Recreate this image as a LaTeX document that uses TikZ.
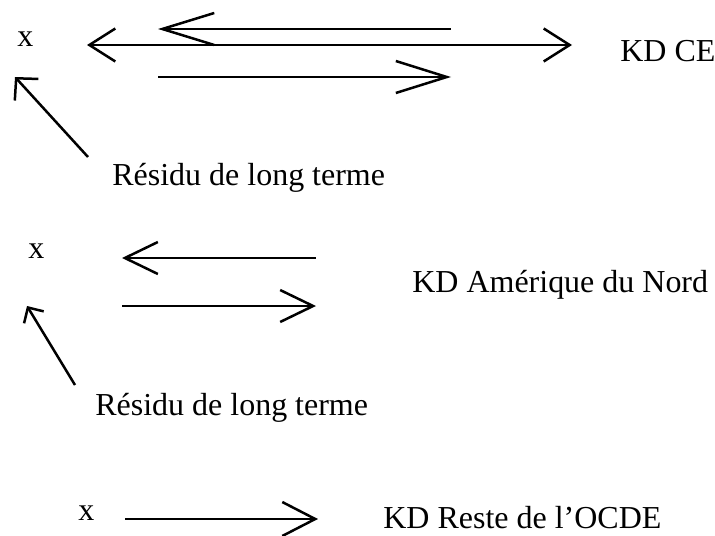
\documentclass[tikz,border=0pt]{standalone}
\usepackage{fontspec}
\setmainfont{Liberation Serif}
\usetikzlibrary{arrows.meta}
\begin{document}
\begin{tikzpicture}[
    flow/.style={line width=0.05cm},
    lbl/.style={inner sep=0pt, anchor=base west}]
                \useasboundingbox (0,0) rectangle (14.300000,10.700000);
                {\fontsize{18.2}{22}\selectfont

                % Marking point x (CE)
                \node [lbl] (xce) at (0.340000,9.760000) {x};%
                \node [lbl] (kdce) at (12.400000,9.460000) {KD CE};%
                \node [lbl] (rce) at (2.240000,7.000000) {Résidu de long terme};%

                % Drawing line x <-> KD CE
                \coordinate (ceL) at (1.740000,9.800000);
                \coordinate (ceR) at (11.440000,9.800000);
                \draw [flow, {Straight Barb[length=0.52cm,width=0.66cm]}-{Straight Barb[length=0.52cm,width=0.66cm]}] (ceL) -- (ceR);%

                % Drawing line back, upper
                \coordinate (ceuL) at (3.160000,10.120000);
                \coordinate (ceuR) at (9.020000,10.120000);
                \draw [flow, {Straight Barb[length=1.04cm,width=0.64cm]}-] (ceuL) -- (ceuR);%

                % Drawing line forth, lower
                \coordinate (celL) at (3.160000,9.160000);
                \coordinate (celR) at (9.020000,9.160000);
                \draw [flow, -{Straight Barb[length=1.02cm,width=0.64cm]}] (celL) -- (celR);%

                % Drawing residual CE
                \coordinate (rceA) at (1.760000,7.560000);
                \coordinate (rceB) at (0.300000,9.160000);
                \draw [flow, -{Straight Barb[length=0.31cm,width=0.64cm]}] (rceA) -- (rceB);%

                % Marking point x (Amerique du Nord)
                \node [lbl] (xan) at (0.560000,5.540000) {x};%
                \node [lbl] (kdan) at (8.240000,4.860000) {KD Amérique du Nord};%
                \node [lbl] (ran) at (1.900000,2.400000) {Résidu de long terme};%

                % Drawing line back, upper
                \coordinate (anuL) at (2.440000,5.540000);
                \coordinate (anuR) at (6.320000,5.540000);
                \draw [flow, {Straight Barb[length=0.66cm,width=0.64cm]}-] (anuL) -- (anuR);%

                % Drawing line forth, lower
                \coordinate (anlL) at (2.440000,4.580000);
                \coordinate (anlR) at (6.320000,4.580000);
                \draw [flow, -{Straight Barb[length=0.66cm,width=0.64cm]}] (anlL) -- (anlR);%

                % Drawing residual Amerique du Nord
                \coordinate (ranA) at (1.500000,3.000000);
                \coordinate (ranB) at (0.540000,4.580000);
                \draw [flow, -{Straight Barb[length=0.23cm,width=0.46cm]}] (ranA) -- (ranB);%

                % Marking point x (Reste de l'OCDE)
                \node [lbl] (xro) at (1.560000,0.300000) {x};%
                \node [lbl] (kdro) at (7.660000,0.130000) {KD Reste de l’OCDE};%

                % Drawing line x -> KD Reste
                \coordinate (roL) at (2.500000,0.320000);
                \coordinate (roR) at (6.360000,0.320000);
                \draw [flow, -{Straight Barb[length=0.66cm,width=0.68cm]}] (roL) -- (roR);%
                }
\end{tikzpicture}
\end{document}
